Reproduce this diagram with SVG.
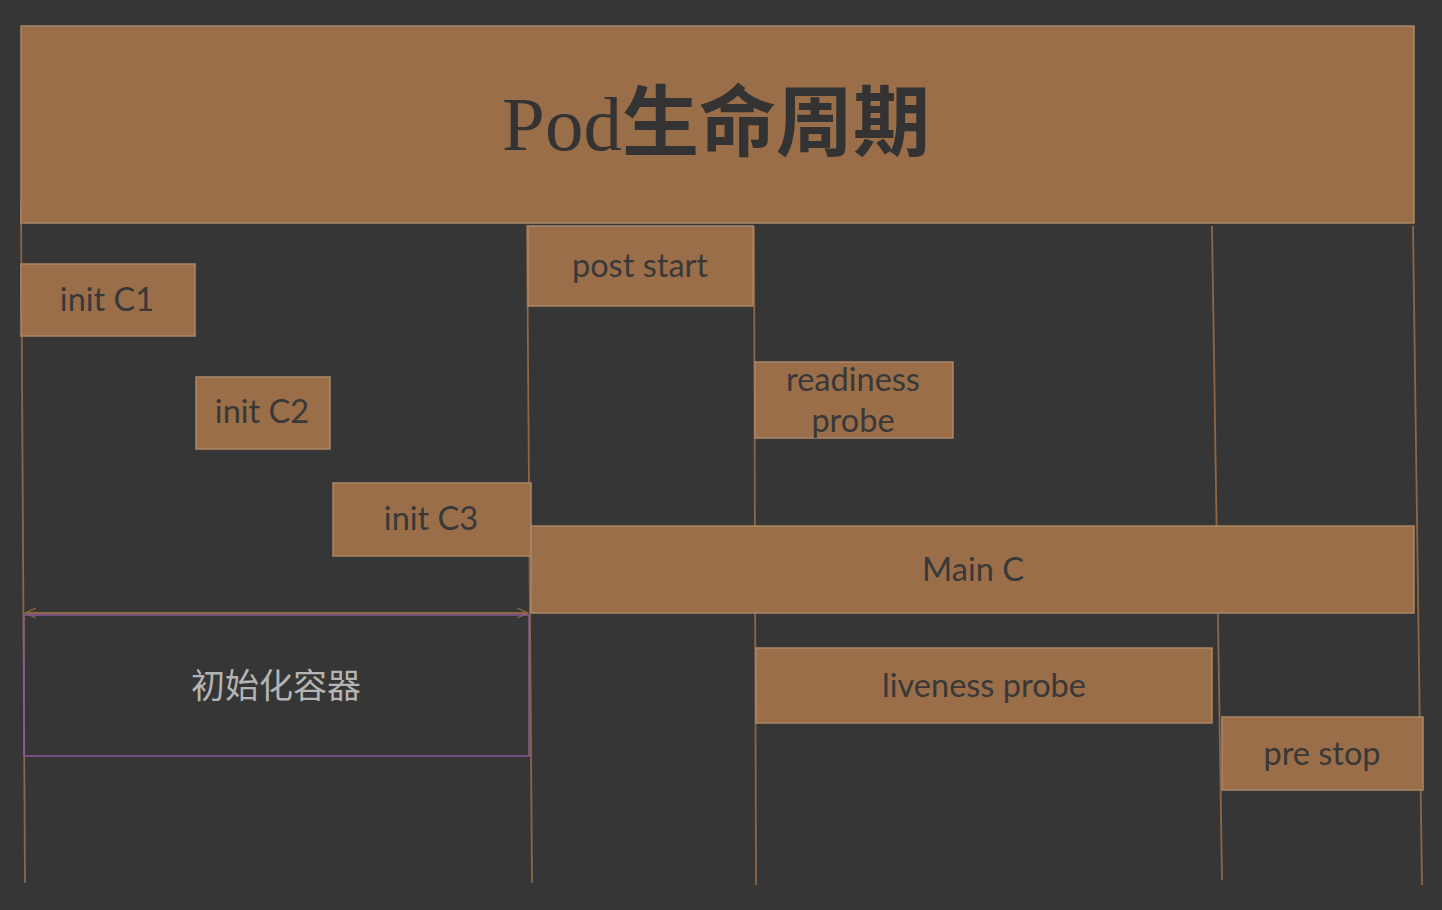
<svg xmlns="http://www.w3.org/2000/svg" width="1442" height="910" viewBox="0 0 1442 910">
<defs>
<style>
.box{fill:#9a6e48;stroke:#ab8767;stroke-width:1.5}
.lbl{font-family:Lato,"Open Sans","Noto Sans CJK SC",sans-serif;font-size:32.5px;fill:#383838;text-anchor:middle;dominant-baseline:central}
.vl{stroke:#8d6646;stroke-width:1.8;fill:none}
</style>
<marker id="ah" viewBox="0 0 12 10" refX="11" refY="5" markerWidth="12" markerHeight="10" orient="auto-start-reverse" markerUnits="userSpaceOnUse">
<path d="M0,0 L11,5 L0,10" fill="none" stroke="#8d6646" stroke-width="1.3"/>
</marker>
</defs>
<rect width="1442" height="910" fill="#363636"/>
<g id="connectors">
<line class="vl" x1="21" y1="205" x2="25" y2="883"/>
<line class="vl" x1="527" y1="225" x2="532" y2="883"/>
<line class="vl" x1="754" y1="226" x2="756" y2="885"/>
<line class="vl" x1="1212" y1="226" x2="1222" y2="880"/>
<line class="vl" x1="1413" y1="226" x2="1422" y2="885"/>
<line class="vl" x1="25" y1="613" x2="528" y2="613" marker-start="url(#ah)" marker-end="url(#ah)"/>
</g>
<g id="title">
<rect class="box" x="21" y="26" width="1393" height="197"/>
<text x="716" y="150" text-anchor="middle" font-size="77" fill="#333333"><tspan font-family="'Liberation Serif',serif">Pod</tspan><tspan font-family="'Noto Sans CJK SC',sans-serif" font-weight="bold">生命周期</tspan></text>
</g>
<g id="initC1"><rect class="box" x="21" y="264" width="174" height="72"/><text class="lbl" x="107" y="298">init C1</text></g>
<g id="initC2"><rect class="box" x="196" y="377" width="134" height="72"/><text class="lbl" x="262" y="410">init C2</text></g>
<g id="initC3"><rect class="box" x="333" y="483" width="198" height="73"/><text class="lbl" x="431" y="517">init C3</text></g>
<g id="poststart"><rect class="box" x="528" y="226" width="225" height="80"/><text class="lbl" x="640" y="264">post start</text></g>
<g id="readiness"><rect class="box" x="755" y="362" width="198" height="76"/><text class="lbl" x="853" y="378">readiness</text><text class="lbl" x="853" y="419">probe</text></g>
<g id="mainC"><rect class="box" x="531" y="526" width="883" height="87"/><text class="lbl" x="973" y="568">Main C</text></g>
<g id="liveness"><rect class="box" x="756" y="648" width="456" height="75"/><text class="lbl" x="984" y="684">liveness probe</text></g>
<g id="prestop"><rect class="box" x="1222" y="717" width="201" height="73"/><text class="lbl" x="1322" y="752">pre stop</text></g>
<g id="initcontainers"><rect x="24" y="615" width="505" height="141" fill="none" stroke="#8a5a9a" stroke-width="1.5"/><text x="276" y="683" text-anchor="middle" dominant-baseline="central" font-family="'Noto Sans CJK SC',sans-serif" font-size="34" fill="#b4b4b4">初始化容器</text></g>
</svg>
